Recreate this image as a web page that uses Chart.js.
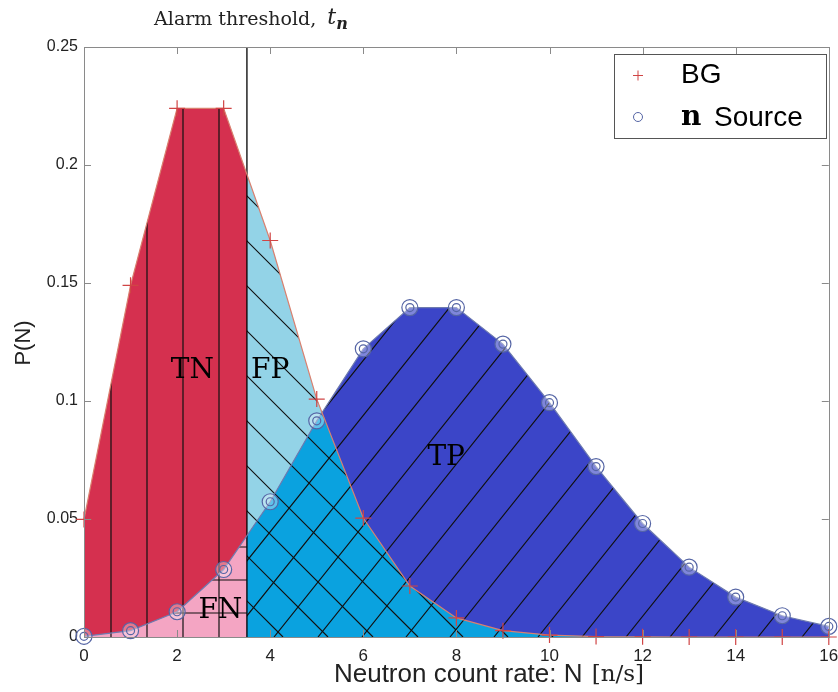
<!DOCTYPE html>
<html><head><meta charset="utf-8">
<script src="https://cdn.jsdelivr.net/npm/chart.js@4.4.1/dist/chart.umd.min.js"></script>
<style>html,body{margin:0;padding:0;background:#fff;}#wrap{width:838px;height:692px;}</style>
</head><body><div id="wrap"><canvas id="c" width="838" height="692"></canvas></div>
<script>
// ---- data ----
const counts   = [0,1,2,3,4,5,6,7,8,9,10,11,12,13,14,15,16];
const bgProb   = [0.0498,0.149,0.224,0.224,0.168,0.1008,0.0504,0.0216,0.0081,0.0027,0.0008,0.0002,0.0001,0,0,0,0];
const srcProb  = [0.0003,0.0027,0.0107,0.0286,0.0573,0.0916,0.1221,0.1396,0.1396,0.1241,0.0993,0.0722,0.0481,0.0296,0.0169,0.0090,0.0045];
const xTicks   = [0,2,4,6,8,10,12,14,16];
const yTicks   = [0,0.05,0.1,0.15,0.2,0.25];
const threshold = 3.5;
const regionNames = ['TN','FP','TP','FN'];
const regionAt    = [[2.33,0.113],[4.0,0.1127],[7.78,0.0758],[2.93,0.011]];

const C = {
  tn:'#D5304F', fn:'#F4A5C3', fp:'#93D3E7', ov:'#0AA2DF', tp:'#3B45C8',
  bgLine:'#D9806F', bgMark:'#D04545', srcLine:'#6E7BB0', srcMark:'#5565A5',
  frame:'#8A8A8A', text:'#222'
};

const regions = {
  id:'regions',
  beforeDatasetsDraw(chart){
    const {ctx, chartArea:a, scales:{x,y}} = chart;
    const px=v=>x.getPixelForValue(v), py=v=>y.getPixelForValue(v);
    const y0=py(0), xt=px(threshold);
    const area = vals => { const p=new Path2D(); p.moveTo(px(counts[0]),y0);
      counts.forEach((c,i)=>p.lineTo(px(c),py(vals[i]))); p.lineTo(px(counts[counts.length-1]),y0); p.closePath(); return p; };
    const bgA=area(bgProb), srA=area(srcProb);
    const L=new Path2D(); L.rect(a.left,a.top,xt-a.left,a.bottom-a.top);
    const R=new Path2D(); R.rect(xt,a.top,a.right-xt,a.bottom-a.top);
    ctx.save();
    ctx.lineWidth=1.2; ctx.strokeStyle='#111';
    // left of threshold
    ctx.save(); ctx.clip(L);
    ctx.fillStyle=C.tn; ctx.fill(bgA);
    ctx.fillStyle=C.fn; ctx.fill(srA);
    ctx.save(); ctx.clip(bgA); ctx.beginPath();
    for(let vx=a.left+27; vx<xt; vx+=36){ ctx.moveTo(vx,a.top); ctx.lineTo(vx,a.bottom); }
    ctx.stroke(); ctx.restore();
    ctx.save(); ctx.clip(srA); ctx.beginPath();
    for(let vy=y0-24; vy>a.top; vy-=33){ ctx.moveTo(a.left,vy); ctx.lineTo(xt,vy); }
    ctx.stroke(); ctx.restore();
    ctx.restore();
    // right of threshold
    ctx.save(); ctx.clip(R);
    ctx.fillStyle=C.fp; ctx.fill(bgA);
    ctx.fillStyle=C.tp; ctx.fill(srA);
    ctx.save(); ctx.clip(srA); ctx.fillStyle=C.ov; ctx.fill(bgA); ctx.restore();
    const H=a.bottom-a.top;
    ctx.save(); ctx.clip(bgA); ctx.beginPath();
    for(let x0=643-45*20; x0<a.right+H; x0+=45){ ctx.moveTo(x0-H,y0-H); ctx.lineTo(x0,y0); }
    ctx.stroke(); ctx.restore();
    const s=1.25;
    ctx.save(); ctx.clip(srA); ctx.beginPath();
    for(let x0=538-44*20; x0<a.right+50; x0+=44){ ctx.moveTo(x0,y0); ctx.lineTo(x0+H/s,y0-H); }
    ctx.stroke(); ctx.restore();
    ctx.restore();
    // threshold line
    ctx.beginPath(); ctx.lineWidth=1.3; ctx.strokeStyle='#000';
    ctx.moveTo(xt,a.top); ctx.lineTo(xt,a.bottom); ctx.stroke();
    ctx.restore();
  },
  afterDatasetsDraw(chart){
    const {ctx, chartArea:a, scales:{x,y}} = chart;
    const px=v=>x.getPixelForValue(v), py=v=>y.getPixelForValue(v);
    ctx.save();
    // region labels
    ctx.fillStyle='#000'; ctx.font='28px "DejaVu Serif"'; ctx.textAlign='center'; ctx.textBaseline='middle';
    regionNames.forEach((n,i)=>ctx.fillText(n, px(regionAt[i][0]), py(regionAt[i][1])));
    // frame & inward ticks
    ctx.strokeStyle=C.frame; ctx.lineWidth=1;
    ctx.strokeRect(Math.round(a.left)+0.5, Math.round(a.top)+0.5, Math.round(a.right-a.left), Math.round(a.bottom-a.top));
    ctx.beginPath();
    xTicks.forEach(v=>{const X=Math.round(px(v))+0.5; ctx.moveTo(X,a.bottom); ctx.lineTo(X,a.bottom-7); ctx.moveTo(X,a.top); ctx.lineTo(X,a.top+7);});
    yTicks.forEach(v=>{const Y=Math.round(py(v))+0.5; ctx.moveTo(a.left,Y); ctx.lineTo(a.left+7,Y); ctx.moveTo(a.right,Y); ctx.lineTo(a.right-7,Y);});
    ctx.stroke();
    // threshold caption
    const xt=px(threshold)+4;
    ctx.fillStyle=C.text; ctx.textBaseline='alphabetic'; ctx.textAlign='left';
    const t1='Alarm threshold, ';
    ctx.font='italic 22px "DejaVu Serif"'; const wt=ctx.measureText('t').width;
    ctx.font='italic bold 16px "DejaVu Serif"'; const wn=ctx.measureText('n').width;
    ctx.font='19px "DejaVu Serif"'; const w1=ctx.measureText(t1).width+5;
    let sx=xt-(w1+wt+wn)/2;
    ctx.fillText(t1,sx,25);
    ctx.font='italic 22px "DejaVu Serif"'; ctx.fillText('t',sx+w1,24);
    ctx.font='italic bold 16px "DejaVu Serif"'; ctx.fillText('n',sx+w1+wt,29);
    // axis titles
    ctx.font='26px "Liberation Sans"'; ctx.fillStyle=C.text;
    const xa='Neutron count rate: N ';
    const wxa=ctx.measureText(xa).width;
    ctx.font='23px "DejaVu Serif"'; const wun=ctx.measureText('[n/s]').width;
    let ax=488-(wxa+wun)/2;
    ctx.font='26px "Liberation Sans"'; ctx.fillText(xa,ax,682);
    ctx.font='23px "DejaVu Serif"'; ctx.fillText('[n/s]',ax+wxa+2,681);
    ctx.save(); ctx.translate(30,343); ctx.rotate(-Math.PI/2);
    ctx.font='22px "Liberation Sans"'; ctx.textAlign='center'; ctx.fillText('P(N)',0,0); ctx.restore();
    // legend
    const lx=614, ly=54, lw=212, lh=84;
    ctx.fillStyle='#fff'; ctx.fillRect(lx,ly,lw,lh);
    ctx.strokeStyle='#555'; ctx.lineWidth=1; ctx.strokeRect(lx+0.5,ly+0.5,lw,lh);
    ctx.strokeStyle=C.bgMark; ctx.beginPath(); ctx.moveTo(633,75.5); ctx.lineTo(643,75.5); ctx.moveTo(638,70.5); ctx.lineTo(638,80.5); ctx.stroke();
    ctx.strokeStyle=C.srcMark; ctx.beginPath(); ctx.arc(638,117,4.5,0,Math.PI*2); ctx.stroke();
    ctx.fillStyle='#000'; ctx.textBaseline='middle';
    ctx.font='28px "Liberation Sans"'; ctx.fillText('BG',681,75);
    ctx.font='bold 28px "DejaVu Serif"'; ctx.fillText('n',681,118);
    ctx.font='28px "Liberation Sans"'; ctx.fillText('Source',714,118);
    ctx.restore();
  }
};

new Chart(document.getElementById('c'),{
  type:'line',
  data:{datasets:[
    {label:'BG', data:counts.map((c,i)=>({x:c,y:bgProb[i]})), borderColor:C.bgLine, borderWidth:1.2,
     pointStyle:'cross', pointRadius:8, pointBorderColor:C.bgMark, pointBorderWidth:1.2, fill:false, clip:false, order:1},
    {label:'n Source', data:counts.map((c,i)=>({x:c,y:srcProb[i]})), borderColor:C.srcLine, borderWidth:1.2,
     pointStyle:'circle', pointRadius:8, pointBorderColor:C.srcMark, pointBackgroundColor:'rgba(255,255,255,0.35)', pointBorderWidth:1.2, fill:false, clip:false, order:2},
    {label:'inner', data:counts.map((c,i)=>({x:c,y:srcProb[i]})), showLine:false,
     pointStyle:'circle', pointRadius:4, pointBorderColor:C.srcMark, pointBackgroundColor:'rgba(0,0,0,0)', pointBorderWidth:1.2, clip:false, order:0}
  ]},
  plugins:[regions],
  options:{
    responsive:false, animation:false, devicePixelRatio:1,
    layout:{padding:{left:0,right:5,top:47,bottom:0}},
    plugins:{legend:{display:false}, tooltip:{enabled:false}},
    scales:{
      x:{type:'linear', min:0, max:16, grid:{display:false, drawTicks:false}, border:{display:false},
         afterBuildTicks:s=>{s.ticks=xTicks.map(v=>({value:v}));},
         afterFit:s=>{s.height=55; s.paddingLeft=0; s.paddingRight=0;},
         ticks:{padding:9, color:C.text, font:{family:'Liberation Sans', size:17}, maxRotation:0}},
      y:{min:0, max:0.25, grid:{display:false, drawTicks:false}, border:{display:false},
         afterBuildTicks:s=>{s.ticks=yTicks.map(v=>({value:v}));},
         afterFit:s=>{s.width=84; s.paddingTop=0; s.paddingBottom=0;},
         ticks:{padding:6, color:C.text, font:{family:'Liberation Sans', size:16}, callback:v=>String(+v.toFixed(2))}}
    }
  }
});
</script></body></html>
